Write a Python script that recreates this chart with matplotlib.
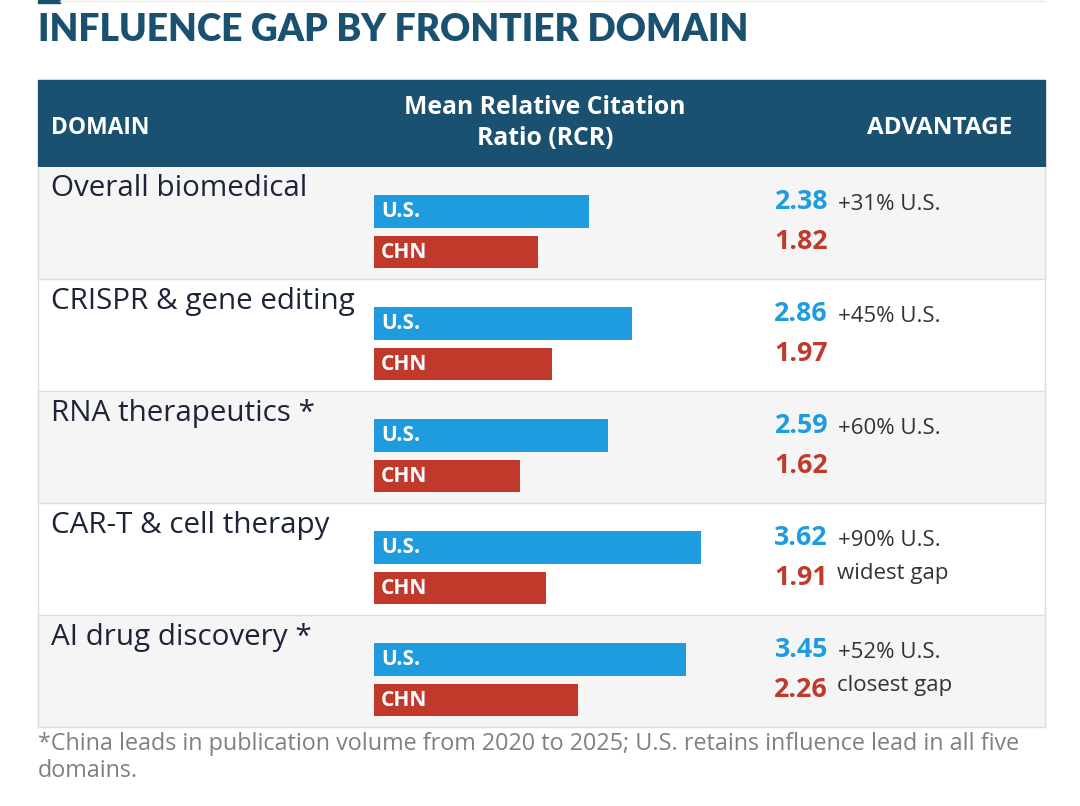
import matplotlib.pyplot as plt
from matplotlib.patches import Rectangle

plt.rcParams['font.family'] = ['Open Sans', 'DejaVu Sans']

# data
domains = ['Overall biomedical', 'CRISPR & gene editing', 'RNA therapeutics *',
           'CAR-T & cell therapy', 'AI drug discovery *']
us_rcr = [2.38, 2.86, 2.59, 3.62, 3.45]
chn_rcr = [1.82, 1.97, 1.62, 1.91, 2.26]
adv_pct = ['+31% U.S.', '+45% U.S.', '+60% U.S.', '+90% U.S.', '+52% U.S.']
notes = ['', '', '', 'widest gap', 'closest gap']

W, H = 1080, 806
NAVY = '#1b5170'
BLUE = '#1f9be0'
RED = '#c0392b'

fig = plt.figure(figsize=(W / 100, H / 100), dpi=100)
bg = fig.add_axes([0, 0, 1, 1])
bg.set_xlim(0, W)
bg.set_ylim(H, 0)
bg.axis('off')

# title
bg.add_patch(Rectangle((38, 0), 22, 3, color=NAVY))
bg.plot([60, 1045], [1, 1], color='#eeeeee', lw=1)
bg.text(38, 30, 'INFLUENCE GAP BY FRONTIER DOMAIN', fontsize=26.7, fontweight='heavy',
        color=NAVY, va='center', ha='left', family=['Lato', 'DejaVu Sans'])

# table geometry
tx0, tx1 = 38, 1045
head_top, head_bot = 80, 167
row_h = 112

bg.add_patch(Rectangle((tx0, head_top), tx1 - tx0, head_bot - head_top, color=NAVY))
bg.text(51, 128, 'DOMAIN', fontsize=16.5, fontweight='bold', color='white', va='center')
bg.text(545, 123, 'Mean Relative Citation\nRatio (RCR)', fontsize=17.8, fontweight='bold',
        color='white', va='center', ha='center', linespacing=1.3)
bg.text(940, 128, 'ADVANTAGE', fontsize=17.5, fontweight='bold', color='white',
        va='center', ha='center')

for i, name in enumerate(domains):
    top = head_bot + i * row_h
    bg.add_patch(Rectangle((tx0, top), tx1 - tx0, row_h,
                           facecolor='#f5f5f5' if i % 2 == 0 else 'white',
                           edgecolor='none'))
    bg.plot([tx0, tx1], [top + row_h, top + row_h], color='#dddddd', lw=1)
    bg.text(51, top + 22, name, fontsize=21.3, color='#1c2438', va='center')
    bg.text(828, top + 35, f'{us_rcr[i]:.2f}', fontsize=19.3, fontweight='bold',
            color=BLUE, va='center', ha='right')
    bg.text(828, top + 75, f'{chn_rcr[i]:.2f}', fontsize=19.3, fontweight='bold',
            color=RED, va='center', ha='right')
    bg.text(838, top + 37, adv_pct[i], fontsize=16, color='#333333', va='center')
    if notes[i]:
        bg.text(837, top + 70, notes[i], fontsize=16, color='#333333', va='center')

bg.plot([tx0, tx0], [head_bot, head_bot + 5 * row_h], color='#dddddd', lw=1)
bg.plot([tx1, tx1], [head_bot, head_bot + 5 * row_h], color='#dddddd', lw=1)

bg.text(38, 744, '*China leads in publication volume from 2020 to 2025; U.S. retains '
        'influence lead in all five', fontsize=16.8, color='#808080', va='center')
bg.text(38, 771, 'domains.', fontsize=16.8, color='#808080', va='center')

# bars axes: 90.3 px per RCR unit, starting at x=374
bx0, bx1 = 374, 1045
by0, by1 = head_bot, head_bot + 5 * row_h
bax = fig.add_axes([bx0 / W, 1 - by1 / H, (bx1 - bx0) / W, (by1 - by0) / H])
bax.set_xlim(0, (bx1 - bx0) / 90.3)
bax.set_ylim(5, 0)
bax.axis('off')
rows = list(range(len(domains)))
bax.barh([r + 0.397 for r in rows], us_rcr, height=0.295, left=0, color=BLUE)
bax.barh([r + 0.759 for r in rows], chn_rcr, height=0.29, left=0, color=RED)
for r in rows:
    bax.text(0.08, r + 0.397, 'U.S.', fontsize=15, fontweight='bold', color='white',
             va='center', ha='left')
    bax.text(0.08, r + 0.759, 'CHN', fontsize=15, fontweight='bold', color='white',
             va='center', ha='left')

fig.savefig('out.png', dpi=100)
